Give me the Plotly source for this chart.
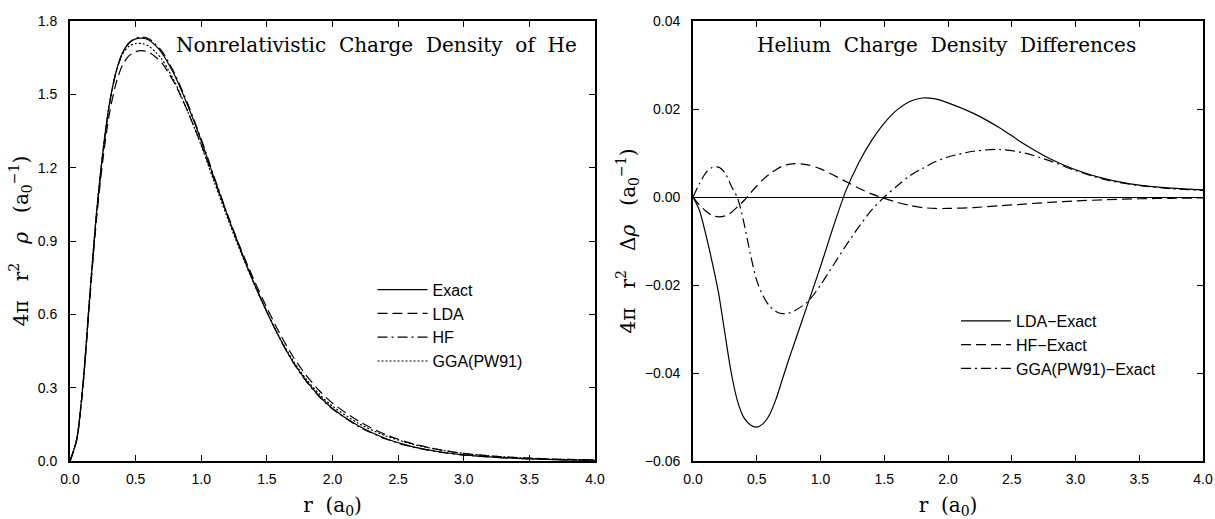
import plotly.graph_objects as go
from plotly.subplots import make_subplots

# ---------------- data ----------------
r = [0, 0.05, 0.1, 0.15, 0.2, 0.25, 0.3, 0.35, 0.4, 0.45, 0.5, 0.55, 0.6, 0.65,
     0.7, 0.75, 0.8, 0.9, 1.0, 1.1, 1.2, 1.3, 1.4, 1.5, 1.6, 1.7, 1.8, 1.9, 2.0,
     2.2, 2.4, 2.6, 2.8, 3.0, 3.25, 3.5, 3.75, 4.0]

exact = [0, 0.085, 0.32, 0.67, 1.00, 1.26, 1.46, 1.59, 1.67, 1.71, 1.727, 1.73, 1.722, 1.70,
         1.67, 1.625, 1.575, 1.45, 1.31, 1.155, 1.005, 0.862, 0.73, 0.61, 0.50, 0.405, 0.328, 0.265, 0.215,
         0.143, 0.093, 0.06, 0.039, 0.025, 0.015, 0.009, 0.005, 0.003]
lda = [0, 0.082, 0.3115, 0.6552, 0.9782, 1.229, 1.42, 1.5435, 1.6198, 1.6582, 1.6747, 1.6785, 1.6725, 1.654,
       1.6285, 1.588, 1.5422, 1.4257, 1.2942, 1.1482, 1.0065, 0.8698, 0.7428, 0.6268, 0.5198, 0.4267, 0.3505, 0.2873, 0.2366,
       0.1624, 0.109, 0.072, 0.0477, 0.0312, 0.019, 0.0117, 0.007, 0.0046]
hf = [0, 0.0832, 0.3168, 0.6658, 0.9955, 1.2557, 1.4565, 1.5878, 1.6692, 1.7109, 1.7295, 1.734, 1.7272, 1.7062,
      1.677, 1.6324, 1.5826, 1.4573, 1.3164, 1.16, 1.0085, 0.864, 0.7307, 0.6097, 0.4988, 0.4031, 0.3256, 0.2624, 0.2124,
      0.1406, 0.091, 0.0584, 0.0378, 0.0241, 0.0144, 0.0086, 0.0047, 0.0028]
gga = [0, 0.088, 0.3255, 0.6767, 1.0068, 1.2655, 1.4625, 1.5897, 1.664, 1.697, 1.708, 1.7075, 1.6972, 1.674,
       1.6435, 1.5986, 1.5492, 1.4262, 1.29, 1.1395, 0.994, 0.8552, 0.727, 0.61, 0.5025, 0.4098, 0.3345, 0.273, 0.2241,
       0.1534, 0.1038, 0.07, 0.0472, 0.031, 0.0188, 0.0116, 0.0069, 0.0045]

lda_exact = [0, -0.0030, -0.0085, -0.0148, -0.0218, -0.031, -0.040, -0.0465, -0.0502, -0.0518, -0.0523, -0.0515, -0.0495, -0.046,
             -0.0415, -0.037, -0.0328, -0.0243, -0.0158, -0.0068, 0.0015, 0.0078, 0.0128, 0.0168, 0.0198, 0.0217, 0.0225, 0.0223, 0.0214,
             0.0190, 0.0158, 0.0120, 0.0087, 0.0062, 0.0040, 0.0027, 0.0020, 0.0016]
hf_exact = [0, -0.0018, -0.0032, -0.0042, -0.0045, -0.0043, -0.0035, -0.0022, -0.0008, 0.0009, 0.0025, 0.0040, 0.0052, 0.0062,
            0.0070, 0.0074, 0.0076, 0.0073, 0.0064, 0.0050, 0.0035, 0.0020, 0.0007, -0.0003, -0.0012, -0.0019, -0.0024, -0.0026, -0.0026,
            -0.0024, -0.0020, -0.0016, -0.0012, -0.0009, -0.0006, -0.0004, -0.0003, -0.0002]
gga_exact = [0, 0.0030, 0.0055, 0.0067, 0.0068, 0.0055, 0.0025, -0.0003, -0.006, -0.013, -0.019, -0.0225, -0.0248, -0.026,
             -0.0265, -0.0264, -0.0258, -0.0238, -0.0200, -0.0155, -0.011, -0.0068, -0.003, 0.0000, 0.0025, 0.0048, 0.0065, 0.0080, 0.0091,
             0.0104, 0.0108, 0.0100, 0.0082, 0.0060, 0.0038, 0.0026, 0.0019, 0.0015]

left_names = ["Exact", "LDA", "HF", "GGA(PW91)"]
right_names = ["LDA\u2212Exact", "HF\u2212Exact", "GGA(PW91)\u2212Exact"]

NB = "\u00a0"
left_title = (NB * 2).join(["Nonrelativistic", "Charge", "Density", "of", "He"])
right_title = (NB * 2).join(["Helium", "Charge", "Density", "Differences"])

# ---------------- figure ----------------
fig = make_subplots(rows=1, cols=2)

LW = 1.2
styles_left = ["solid", "10px,5px", "10px,4px,2px,4px", "2px,2px"]
for name, ys, dsh in zip(left_names, [exact, lda, hf, gga], styles_left):
    fig.add_trace(go.Scatter(x=r, y=ys, mode="lines", name=name, legend="legend",
                             line=dict(color="black", width=LW, dash=dsh, shape="spline", smoothing=0.8)),
                  row=1, col=1)

styles_right = ["solid", "10px,5px", "10px,4px,2px,4px"]
for name, ys, dsh in zip(right_names, [lda_exact, hf_exact, gga_exact], styles_right):
    fig.add_trace(go.Scatter(x=r, y=ys, mode="lines", name=name, legend="legend2",
                             line=dict(color="black", width=LW, dash=dsh, shape="spline", smoothing=0.8)),
                  row=1, col=2)

serif = "DejaVu Serif"
sans = "Liberation Sans"

axis_common = dict(showline=True, linecolor="black", linewidth=2, mirror="ticks",
                   ticks="inside", ticklen=6, tickwidth=1.2, tickcolor="black", automargin=False,
                   showgrid=False, tickfont=dict(family=sans, size=14, color="black"))

fig.update_xaxes(**axis_common, range=[0, 4], dtick=0.5, tick0=0, tickformat=".1f",
                 zeroline=False, ticklabelstandoff=4,
                 title=dict(text="r" + NB * 2 + "(a<sub>0</sub>)", font=dict(family=serif, size=20, color="black"),
                            standoff=14))
fig.update_layout(
    xaxis=dict(domain=[0, 0.4634]),
    xaxis2=dict(domain=[0.5499, 1.0]),
)
fig.update_yaxes(**axis_common, ticklabelstandoff=8)
ysp = NB * 3
fig.update_yaxes(range=[0, 1.8], dtick=0.3, tick0=0, tickformat=".1f", zeroline=False,
                 title=dict(text="4\u03c0" + ysp + "r<sup>2</sup>" + ysp + "<i>\u03c1</i>" + ysp
                            + "(a<sub>0</sub><sup>\u22121</sup>)",
                            font=dict(family=serif, size=20, color="black"), standoff=4),
                 row=1, col=1)
fig.update_yaxes(range=[-0.06, 0.04], dtick=0.02, tick0=0, tickformat=".2f",
                 zeroline=True, zerolinecolor="black", zerolinewidth=1.2,
                 title=dict(text="4\u03c0" + ysp + "r<sup>2</sup>" + ysp + "\u0394<i>\u03c1</i>" + ysp
                            + "(a<sub>0</sub><sup>\u22121</sup>)",
                            font=dict(family=serif, size=20, color="black"), standoff=4),
                 row=1, col=2)

fig.add_annotation(text=left_title, xref="x domain", yref="y domain", x=0.583, y=0.945,
                   showarrow=False, font=dict(family=serif, size=20, color="black"),
                   xanchor="center", yanchor="middle")
fig.add_annotation(text=right_title, xref="x2 domain", yref="y2 domain", x=0.497, y=0.945,
                   showarrow=False, font=dict(family=serif, size=20, color="black"),
                   xanchor="center", yanchor="middle")

leg_font = dict(family=sans, size=16, color="black")
fig.update_layout(
    width=1215, height=519,
    margin=dict(l=70, r=12, t=21, b=58),
    paper_bgcolor="white", plot_bgcolor="white",
    showlegend=True,
    legend=dict(x=0.267, y=0.428, xanchor="left", yanchor="top", font=leg_font,
                bgcolor="rgba(0,0,0,0)", itemwidth=50, tracegroupgap=0),
    legend2=dict(x=0.782, y=0.357, xanchor="left", yanchor="top", font=leg_font,
                 bgcolor="rgba(0,0,0,0)", itemwidth=50, tracegroupgap=0),
)

fig.write_html("out.html")
